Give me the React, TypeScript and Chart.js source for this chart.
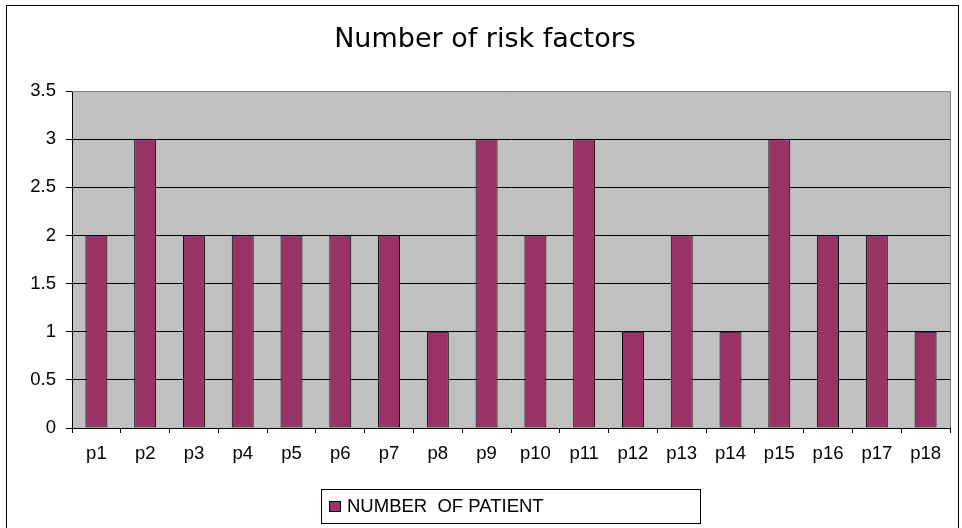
import React, { useEffect, useRef } from "react";
import { Chart, registerables } from "chart.js";

Chart.register(...registerables);

const categories = ["p1","p2","p3","p4","p5","p6","p7","p8","p9","p10","p11","p12","p13","p14","p15","p16","p17","p18"];
const patientCounts = [2,3,2,2,2,2,2,1,3,2,3,1,2,1,3,2,2,1];
const seriesLabel = "NUMBER  OF PATIENT";
const chartTitle = "Number of risk factors";
const yMin = 0;
const yMax = 3.5;
const yStep = 0.5;

const BAR = "#993366";
const PLOT_BG = "#C0C0C0";
const BORDER_GRAY = "#808080";
const TICK_FONT = "'Liberation Sans', Arial, sans-serif";
const TICK_SIZE = 18.5;

const decorPlugin = {
  id: "decor",
  beforeDraw(chart: any) {
    const { ctx, chartArea, width, height } = chart;
    ctx.save();
    ctx.fillStyle = "#ffffff";
    ctx.fillRect(0, 0, width, height);
    ctx.fillStyle = PLOT_BG;
    ctx.fillRect(chartArea.left, chartArea.top, chartArea.right - chartArea.left, chartArea.bottom - chartArea.top);
    ctx.restore();
  },
  afterDraw(chart: any) {
    const { ctx, chartArea } = chart;
    ctx.save();
    ctx.strokeStyle = BORDER_GRAY;
    ctx.lineWidth = 1;
    ctx.beginPath();
    ctx.moveTo(chartArea.left, Math.round(chartArea.top) + 0.5);
    ctx.lineTo(Math.round(chartArea.right) + 0.5, Math.round(chartArea.top) + 0.5);
    ctx.lineTo(Math.round(chartArea.right) + 0.5, chartArea.bottom);
    ctx.stroke();
    ctx.strokeStyle = "#000000";
    ctx.strokeRect(6.5, 5.5, 952, 540);
    ctx.fillStyle = "#000000";
    ctx.font = "27px 'DejaVu Sans', sans-serif";
    ctx.textAlign = "center";
    ctx.textBaseline = "alphabetic";
    ctx.fillText(chartTitle, 485, 47);
    ctx.fillStyle = "#ffffff";
    ctx.fillRect(321.5, 489.5, 379, 34);
    ctx.strokeStyle = "#000000";
    ctx.strokeRect(321.5, 489.5, 379, 34);
    ctx.fillStyle = BAR;
    ctx.fillRect(329.5, 501.5, 11, 10);
    ctx.strokeRect(329.5, 501.5, 11, 10);
    ctx.fillStyle = "#000000";
    ctx.font = TICK_SIZE + "px " + TICK_FONT;
    ctx.textAlign = "left";
    ctx.textBaseline = "middle";
    ctx.fillText(chart.data.datasets[0].label, 347, 507);
    ctx.restore();
  },
};

export default function App() {
  const ref = useRef<HTMLCanvasElement>(null);
  useEffect(() => {
    document.body.style.margin = "0";
    const chart = new Chart(ref.current as HTMLCanvasElement, {
      type: "bar",
      data: {
        labels: categories,
        datasets: [
          {
            label: seriesLabel,
            data: patientCounts,
            backgroundColor: BAR,
            borderColor: "#000000",
            borderWidth: 1,
            borderSkipped: false,
            categoryPercentage: 1,
            barPercentage: 0.45,
          },
        ],
      },
      options: {
        animation: false,
        responsive: false,
        devicePixelRatio: 1,
        layout: { padding: { top: 91, right: 12, left: 0, bottom: 0 } },
        plugins: {
          legend: { display: false },
          title: { display: false },
          tooltip: { enabled: false },
        },
        scales: {
          x: {
            offset: true,
            grid: {
              offset: true,
              drawOnChartArea: false,
              drawTicks: true,
              tickLength: 5,
              color: "#000000",
            },
            border: { display: true, color: "#000000" },
            ticks: {
              color: "#000000",
              font: { family: TICK_FONT, size: TICK_SIZE },
              padding: 10,
              maxRotation: 0,
              autoSkip: false,
            },
            afterFit(scale: any) {
              scale.height = 100;
            },
          },
          y: {
            min: yMin,
            max: yMax,
            grid: {
              color: "#000000",
              tickLength: 6,
              drawTicks: true,
            },
            border: { display: true, color: "#000000" },
            ticks: {
              stepSize: yStep,
              color: "#000000",
              font: { family: TICK_FONT, size: TICK_SIZE },
              padding: 10,
              callback: (v: any) => String(Number(v)),
            },
            afterFit(scale: any) {
              scale.width = 72;
            },
          },
        },
      },
      plugins: [decorPlugin],
    });
    return () => chart.destroy();
  }, []);
  return (
    <div style={{ position: "absolute", left: 0, top: 0, width: 962, height: 528 }}>
      <canvas ref={ref} width={962} height={528} style={{ width: 962, height: 528, display: "block" }} />
    </div>
  );
}
